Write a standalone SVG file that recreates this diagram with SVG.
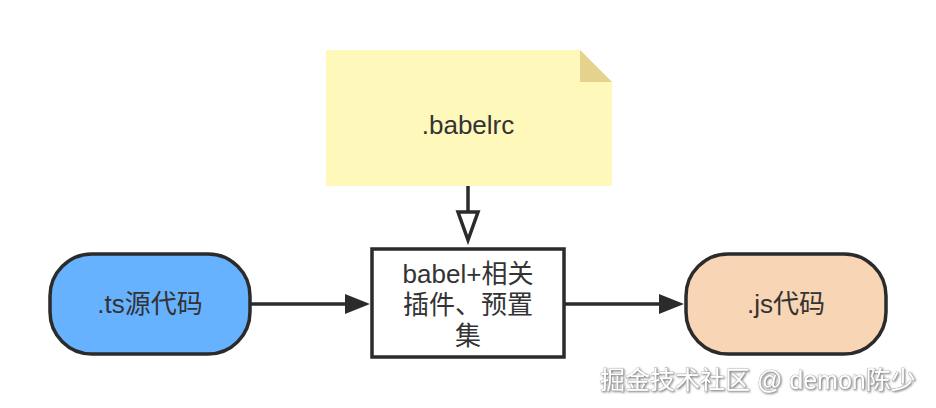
<svg xmlns="http://www.w3.org/2000/svg" width="936" height="408" viewBox="0 0 936 408">
<style>
.t{font-family:"Liberation Sans","Noto Sans CJK SC",sans-serif;font-size:26px;fill:#333;text-anchor:middle}
.ln{stroke:#2b2b2b;stroke-width:3.5;fill:none}
.wm{font-family:"Liberation Sans","Noto Sans CJK SC",sans-serif;font-size:25px;fill:#fff;stroke:#999;stroke-width:0.6;paint-order:stroke}
</style>
<defs>
<filter id="sh" x="-5%" y="-20%" width="110%" height="140%"><feDropShadow dx="1" dy="1" stdDeviation="0.8" flood-color="#555" flood-opacity="0.8"/></filter>
</defs>
<rect width="936" height="408" fill="#fff"/>
<g id="connectors">
<line class="ln" x1="468" y1="186" x2="468" y2="212"/>
<polygon points="458,212 478,212 468,240" fill="#fff" stroke="#2b2b2b" stroke-width="3.5"/>
<line class="ln" x1="250" y1="304" x2="348" y2="304"/>
<polygon points="345,294 370,304 345,314" fill="#2b2b2b"/>
<line class="ln" x1="564" y1="304" x2="662" y2="304"/>
<polygon points="659,294 684,304 659,314" fill="#2b2b2b"/>
</g>
<g id="babelrc">
<path d="M326,50 H580 L612,82 V186 H326 Z" fill="#fff8bb"/>
<path d="M580,50 L612,82 H580 Z" fill="#e5d28d"/>
<text class="t" x="468" y="134">.babelrc</text>
</g>
<g id="babel">
<rect x="372" y="249" width="192" height="108" fill="#fff" stroke="#2b2b2b" stroke-width="3.5"/>
<text class="t" x="468" y="283">babel+相关</text>
<text class="t" x="468" y="314">插件、预置</text>
<text class="t" x="468" y="345">集</text>
</g>
<g id="ts">
<rect x="50" y="254" width="200" height="100" rx="42" ry="42" fill="#66b2ff" stroke="#2b2b2b" stroke-width="3.5"/>
<text class="t" x="150" y="313">.ts源代码</text>
</g>
<g id="js">
<rect x="686" y="254" width="200" height="100" rx="42" ry="42" fill="#f8d5b5" stroke="#2b2b2b" stroke-width="3.5"/>
<text class="t" x="786" y="313">.js代码</text>
</g>
<text class="wm" x="600" y="389" filter="url(#sh)">掘金技术社区 @ demon陈少</text>
</svg>
